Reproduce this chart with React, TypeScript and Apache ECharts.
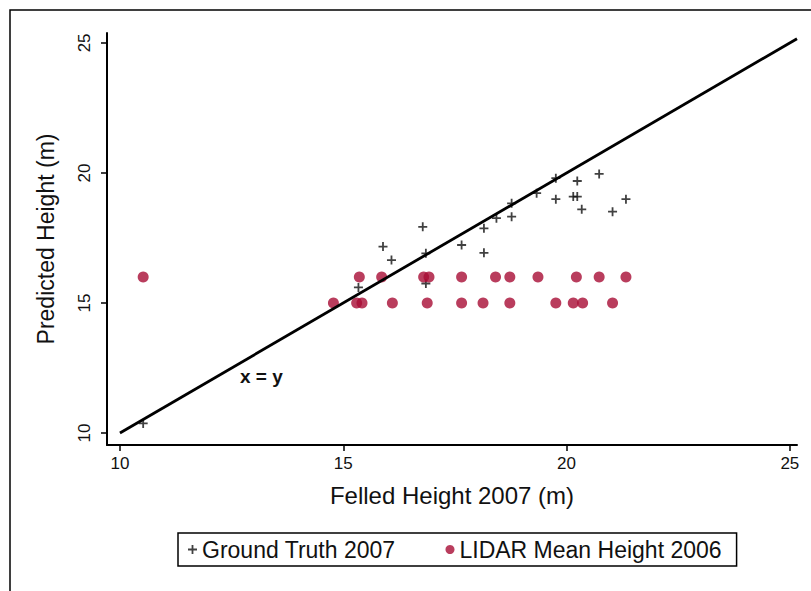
import React, { useEffect, useRef } from "react";
import * as echarts from "echarts";

const xTicks = [10, 15, 20, 25];
const yTicks = [10, 15, 20, 25];

const groundTruthX = [10.52, 15.34, 15.89, 16.08, 16.78, 16.85, 16.85, 17.65, 18.15, 18.15, 18.43, 18.77, 18.77, 19.33, 19.76, 19.76, 20.15, 20.24, 20.24, 20.34, 20.73, 21.03, 21.33];
const groundTruthY = [10.37, 15.6, 17.17, 16.65, 17.93, 16.91, 15.75, 17.23, 17.87, 16.93, 18.26, 18.83, 18.32, 19.22, 19.8, 18.99, 19.09, 19.09, 19.69, 18.6, 19.96, 18.51, 18.99];

const lidarX = [10.52, 15.36, 15.86, 16.8, 16.92, 17.65, 18.41, 18.73, 19.36, 20.22, 20.73, 21.33,
  14.78, 15.3, 15.42, 16.1, 16.88, 17.65, 18.13, 18.73, 19.76, 20.15, 20.36, 21.03];
const lidarY = [16, 16, 16, 16, 16, 16, 16, 16, 16, 16, 16, 16,
  15, 15, 15, 15, 15, 15, 15, 15, 15, 15, 15, 15];

const lineX = [10, 25.16];
const lineY = [10, 25.16];

const FONT = "'Liberation Sans', Arial, sans-serif";
const PLUS = "path://M3.2,0H4.8V3.2H8V4.8H4.8V8H3.2V4.8H0V3.2H3.2Z";

export default function App() {
  const ref = useRef<HTMLDivElement>(null);
  useEffect(() => {
    if (!ref.current) return;
    const chart = echarts.init(ref.current, null, { renderer: "svg" });
    const option = {
      animation: false,
      backgroundColor: "#fff",
      textStyle: { fontFamily: FONT },
      grid: { left: 107, top: 33, right: 14, bottom: 146, containLabel: false },
      xAxis: {
        type: "value",
        min: 9.71,
        max: 25.16,
        name: "Felled Height 2007 (m)",
        nameLocation: "middle",
        nameGap: 38,
        nameTextStyle: { fontSize: 24, color: "#111", fontFamily: FONT },
        axisLine: { show: true, onZero: false, lineStyle: { color: "#000", width: 2 } },
        axisTick: { show: true, customValues: xTicks, length: 6, lineStyle: { color: "#000", width: 1.5 } },
        axisLabel: { customValues: xTicks, fontSize: 17, color: "#111", margin: 10, fontFamily: FONT },
        splitLine: { show: false },
      },
      yAxis: {
        type: "value",
        min: 9.54,
        max: 25.38,
        name: "Predicted Height (m)",
        nameLocation: "middle",
        nameGap: 50,
        nameTextStyle: { fontSize: 23, color: "#111", fontFamily: FONT },
        axisLine: { show: true, onZero: false, lineStyle: { color: "#000", width: 2 } },
        axisTick: { show: true, customValues: yTicks, length: 6, lineStyle: { color: "#000", width: 1.5 } },
        axisLabel: { customValues: yTicks, fontSize: 17, color: "#111", margin: 14, rotate: 90, fontFamily: FONT },
        splitLine: { show: false },
      },
      legend: {
        left: 178,
        top: 533,
        orient: "horizontal",
        borderColor: "#000",
        borderWidth: 1.5,
        padding: [5, 15, 5, 10],
        itemGap: 50,
        itemWidth: 9,
        itemHeight: 9,
        textStyle: { fontSize: 23, color: "#111", fontFamily: FONT },
        data: [
          { name: "Ground Truth 2007", icon: PLUS },
          { name: "LIDAR Mean Height 2006", icon: "circle" },
        ],
      },
      graphic: [
        {
          type: "rect",
          shape: { x: 10, y: 10, width: 830, height: 620 },
          style: { fill: "none", stroke: "#000", lineWidth: 1.5 },
          silent: true,
        },
        {
          type: "text",
          left: 240,
          top: 367,
          style: { text: "x = y", font: `bold 19px ${FONT}`, fill: "#111" },
          silent: true,
        },
      ],
      series: [
        {
          name: "Ground Truth 2007",
          type: "scatter",
          symbol: PLUS,
          symbolSize: 9,
          itemStyle: { color: "#111" },
          data: groundTruthX.map((x, i) => [x, groundTruthY[i]]),
          z: 2,
        },
        {
          name: "LIDAR Mean Height 2006",
          type: "scatter",
          symbol: "circle",
          symbolSize: 11,
          itemStyle: { color: "#a80c35" },
          data: lidarX.map((x, i) => [x, lidarY[i]]),
          z: 3,
        },
        {
          name: "x = y",
          type: "line",
          symbol: "none",
          lineStyle: { color: "#000", width: 2.8 },
          data: lineX.map((x, i) => [x, lineY[i]]),
          z: 4,
        },
      ],
    };
    chart.setOption(option as any);
    return () => chart.dispose();
  }, []);
  return (
    <div
      ref={ref}
      style={{ position: "fixed", left: 0, top: 0, width: 811, height: 591, background: "#fff" }}
    />
  );
}
